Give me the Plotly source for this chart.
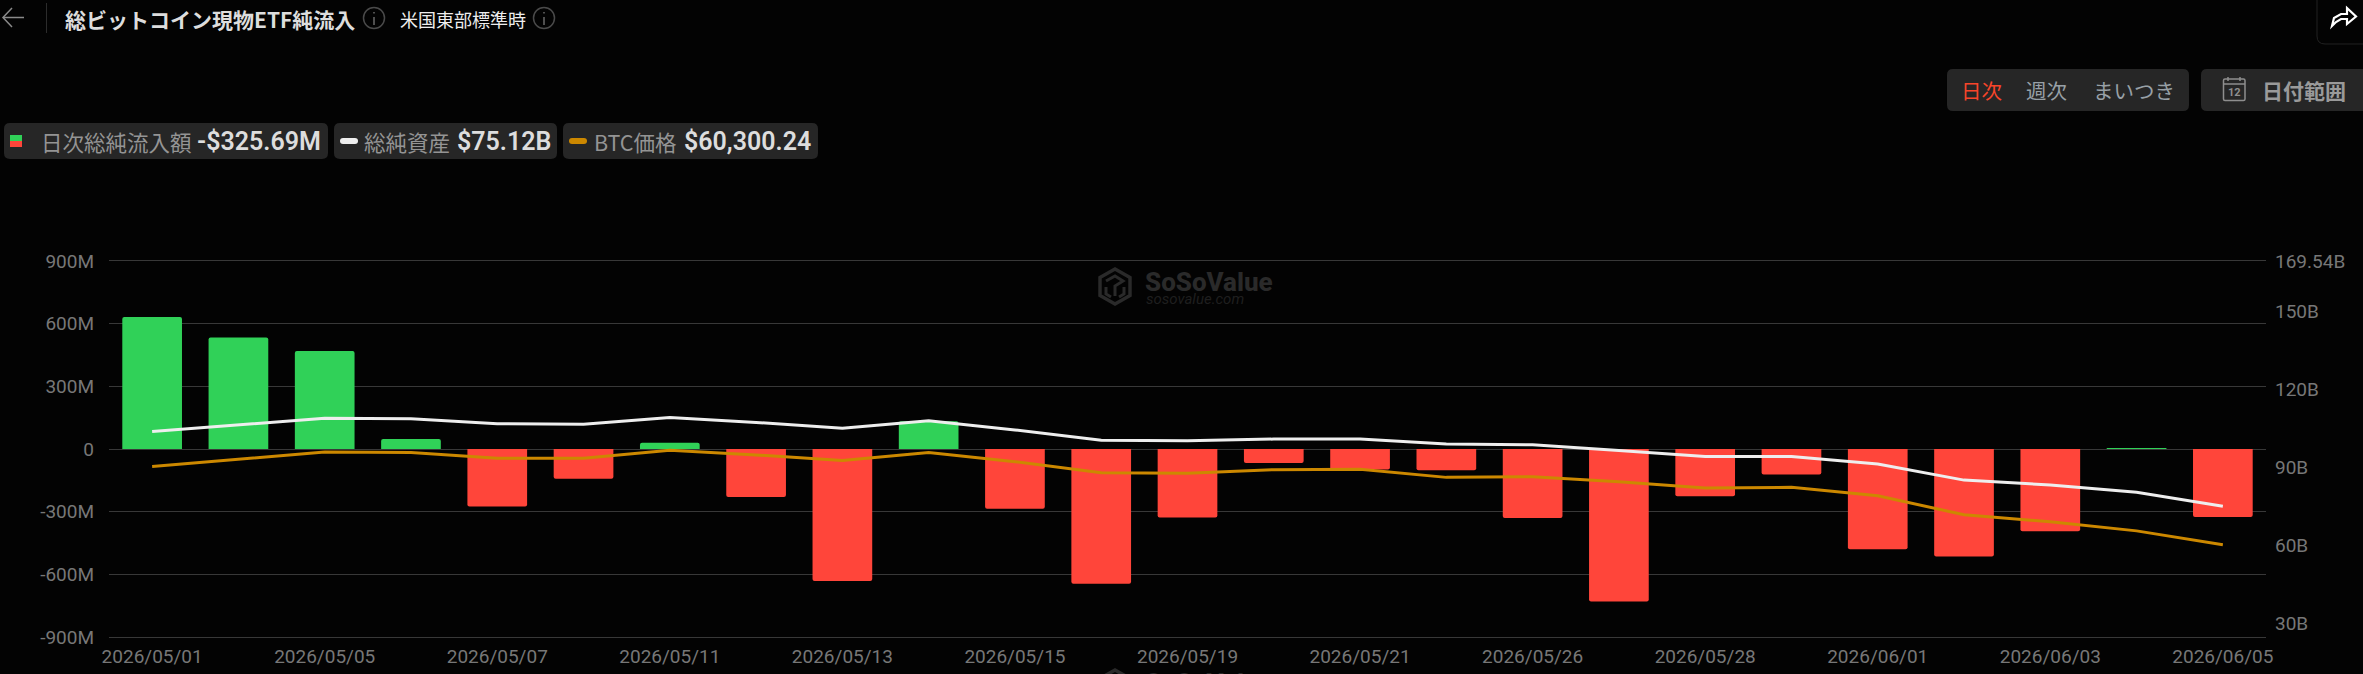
import plotly.graph_objects as go

# Daily spot Bitcoin ETF figures, one entry per trading day
trade_dates = [
    "2026/05/01", "2026/05/04", "2026/05/05", "2026/05/06", "2026/05/07",
    "2026/05/08", "2026/05/11", "2026/05/12", "2026/05/13", "2026/05/14",
    "2026/05/15", "2026/05/18", "2026/05/19", "2026/05/20", "2026/05/21",
    "2026/05/22", "2026/05/26", "2026/05/27", "2026/05/28", "2026/05/29",
    "2026/06/01", "2026/06/02", "2026/06/03", "2026/06/04", "2026/06/05",
]
net_inflow_musd = [
    632, 534, 469, 48, -275, -142, 30, -230, -632, 133, -286, -645, -328,
    -67, -98, -102, -330, -730, -226, -122, -480, -515, -394, 3, -325.69,
]
net_assets_busd = [
    103.9, 106.5, 109.0, 108.8, 106.9, 106.7, 109.3, 107.4, 105.2, 108.0,
    104.5, 100.5, 100.3, 101.0, 101.0, 99.1, 98.8, 96.6, 94.3, 94.3,
    91.4, 85.2, 83.3, 80.5, 75.12,
]
btc_price_usd = [
    90390, 93200, 96050, 95800, 93600, 93600, 96700, 94900, 92700, 95800,
    92300, 88050, 87800, 89200, 89350, 86250, 86500, 84600, 82150, 82400,
    79200, 71850, 69150, 65650, 60300.24,
]

date_ticks = trade_dates[::2]
flow_ticks = [-900, -600, -300, 0, 300, 600, 900]
flow_labels = ["-900M", "-600M", "-300M", "0", "300M", "600M", "900M"]
asset_ticks = [30, 60, 90, 120, 150, 169.54]
asset_labels = ["30B", "60B", "90B", "120B", "150B", "169.54B"]

W, H = 2363, 674
L, R, T, B = 109, 2266, 261, 637

BG = "#030303"
CHIP = "#262626"
GREEN = "#30D158"
RED = "#FF453A"
WHITE = "#EEEEEE"
ORANGE = "#CC8800"
GRID = "#383838"
TICK = "#777777"
JP = "Noto Sans CJK JP"
NUM = "Roboto"
MARK = "#2A2A2A"


def px(x):
    return (x - L) / (R - L)


def py(y):
    return 1 - (y - T) / (B - T)


def path(points, close=False):
    d = " ".join(
        f"{'M' if i == 0 else 'L'}{px(x):.6f},{py(y):.6f}" for i, (x, y) in enumerate(points)
    )
    return d + (" Z" if close else "")


def round_rect(x0, y0, x1, y1, r):
    return (
        f"M{px(x0 + r):.6f},{py(y0):.6f} L{px(x1 - r):.6f},{py(y0):.6f} "
        f"Q{px(x1):.6f},{py(y0):.6f} {px(x1):.6f},{py(y0 + r):.6f} "
        f"L{px(x1):.6f},{py(y1 - r):.6f} "
        f"Q{px(x1):.6f},{py(y1):.6f} {px(x1 - r):.6f},{py(y1):.6f} "
        f"L{px(x0 + r):.6f},{py(y1):.6f} "
        f"Q{px(x0):.6f},{py(y1):.6f} {px(x0):.6f},{py(y1 - r):.6f} "
        f"L{px(x0):.6f},{py(y0 + r):.6f} "
        f"Q{px(x0):.6f},{py(y0):.6f} {px(x0 + r):.6f},{py(y0):.6f} Z"
    )


shapes = []
notes = []


def fill_shape(d, color):
    shapes.append(dict(type="path", xref="paper", yref="paper", path=d,
                       fillcolor=color, line=dict(width=0), layer="below"))


def stroke_shape(d, color, width=1.5):
    shapes.append(dict(type="path", xref="paper", yref="paper", path=d,
                       line=dict(color=color, width=width), layer="below"))


def circle(cx, cy, r, color, width=1.5):
    shapes.append(dict(type="circle", xref="paper", yref="paper",
                       x0=px(cx - r), x1=px(cx + r), y0=py(cy + r), y1=py(cy - r),
                       line=dict(color=color, width=width), layer="below"))


def text(x, y, s, size, color, family=JP, anchor="left", weight=None, italic=False):
    font = dict(family=family, size=size, color=color)
    if weight:
        font["weight"] = weight
    if italic:
        font["style"] = "italic"
    notes.append(dict(xref="paper", yref="paper", x=px(x), y=py(y), text=s,
                      showarrow=False, xanchor=anchor, yanchor="middle",
                      font=font, borderpad=0))


def info_icon(cx, cy):
    circle(cx, cy, 10.5, "#4A4A4A", 1.5)
    stroke_shape(path([(cx, cy - 1), (cx, cy + 7)]), "#6A6A6A", 1.5)
    stroke_shape(path([(cx, cy - 6), (cx, cy - 4.4)]), "#6A6A6A", 1.5)


def watermark(dy, caption=True):
    # Hexagonal brand mark with its wordmark
    hex_pts = [(1115, 269 + dy), (1130, 277.5 + dy), (1130, 295.5 + dy),
               (1115, 304 + dy), (1100, 295.5 + dy), (1100, 277.5 + dy)]
    stroke_shape(path(hex_pts, close=True), MARK, 3.5)
    stroke_shape(path([(1106, 281 + dy), (1115, 276 + dy), (1123, 281 + dy),
                       (1115, 286 + dy), (1115, 296 + dy)]), MARK, 3)
    stroke_shape(path([(1106, 287 + dy), (1106, 294 + dy), (1111, 297 + dy)]), MARK, 3)
    stroke_shape(path([(1124, 287 + dy), (1124, 294 + dy), (1119, 297 + dy)]), MARK, 3)
    text(1144, 282 + dy, "SoSoValue", 26, MARK, NUM, weight=800)
    if caption:
        text(1145, 299 + dy, "sosovalue.com", 15, "#1F1F1F", NUM, italic=True)


# Header row
stroke_shape(path([(24, 17.5), (3, 17.5)]), "#8A8A8A", 1.5)
stroke_shape(path([(12, 8), (3, 17.5), (12, 27)]), "#8A8A8A", 1.5)
stroke_shape(path([(46.5, 3), (46.5, 33)]), "#2C2C2C", 1)
text(64, 19, "総ビットコイン現物ETF純流入", 21, "#DDDDDD", weight=700)
info_icon(374, 18)
text(399, 19, "米国東部標準時", 18, "#EEEEEE")
info_icon(544, 18)

# Share button in the top right corner
stroke_shape(
    f"M{px(2317):.6f},{py(0):.6f} L{px(2317):.6f},{py(36):.6f} "
    f"Q{px(2317):.6f},{py(44):.6f} {px(2325):.6f},{py(44):.6f} L{px(2363):.6f},{py(44):.6f}",
    "#222222", 1)
stroke_shape(
    path([(2332, 26), (2334, 18), (2341, 14), (2347, 14), (2347, 8), (2356, 16.5),
          (2347, 24), (2347, 19), (2341, 19), (2336, 22)], close=True),
    "#FFFFFF", 2.2)

# Interval selector and date range button
fill_shape(round_rect(1947, 69, 2189, 111, 6), CHIP)
text(1981, 90, "日次", 20.5, "#F8452A", anchor="center")
text(2046, 90, "週次", 20.5, "#98A0A6", anchor="center")
text(2134, 90, "まいつき", 20.5, "#98A0A6", anchor="center")
fill_shape(round_rect(2201, 69, 2375, 111, 6), CHIP)
stroke_shape(round_rect(2223.5, 79, 2245, 100.5, 1.5), "#8E8E8E", 1.5)
stroke_shape(path([(2223.5, 84), (2245, 84)]), "#8E8E8E", 1.5)
stroke_shape(path([(2228, 77), (2228, 81)]), "#8E8E8E", 1.5)
stroke_shape(path([(2240, 77), (2240, 81)]), "#8E8E8E", 1.5)
text(2234.2, 92.5, "12", 11, "#8E8E8E", NUM, anchor="center", weight=700)
text(2260.5, 90, "日付範囲", 21, "#9A9A9A", weight=700)

# Latest-value chips above the chart
fill_shape(round_rect(4, 123, 328, 159, 6), CHIP)
fill_shape(round_rect(334, 123, 557, 159, 6), CHIP)
fill_shape(round_rect(563, 123, 818, 159, 6), CHIP)
shapes.append(dict(type="rect", xref="paper", yref="paper", x0=px(10), x1=px(22),
                   y0=py(141), y1=py(135), fillcolor=GREEN, line=dict(width=0)))
shapes.append(dict(type="rect", xref="paper", yref="paper", x0=px(10), x1=px(22),
                   y0=py(147), y1=py(141), fillcolor=RED, line=dict(width=0)))
fill_shape(round_rect(340, 138, 358, 144, 3), WHITE)
fill_shape(round_rect(569, 138, 587, 144, 3), ORANGE)

LABEL = "#949494"
VALUE = "#DDDDDD"
last_flow = net_inflow_musd[-1]
text(40, 141, "日次総純流入額", 21.5, LABEL)
text(196, 141, f"-${abs(last_flow):.2f}M", 25, VALUE, NUM, weight=600)
text(363, 141, "総純資産", 21.5, LABEL)
text(456, 141, f"${net_assets_busd[-1]:.2f}B", 25, VALUE, NUM, weight=600)
text(592.5, 141, "BTC価格", 21.5, LABEL)
text(683, 141, f"${btc_price_usd[-1]:,.2f}", 25, VALUE, NUM, weight=600)

# The watermark repeats further down the page, where only its top edge stays in view
watermark(0)
watermark(401, caption=False)

asset_range = [24.8, 169.54]

fig = go.Figure()
fig.add_trace(go.Bar(
    x=trade_dates, y=net_inflow_musd, name="日次総純流入額",
    marker=dict(color=[GREEN if v >= 0 else RED for v in net_inflow_musd],
                line=dict(width=0), cornerradius=2),
))
fig.add_trace(go.Scatter(
    x=trade_dates, y=net_assets_busd, name="総純資産", yaxis="y2",
    mode="lines", line=dict(color=WHITE, width=3),
))
fig.add_trace(go.Scatter(
    x=trade_dates, y=btc_price_usd, name="BTC価格", yaxis="y3",
    mode="lines", line=dict(color=ORANGE, width=3),
))

tick_font = dict(family=NUM, size=19, color=TICK)
fig.update_layout(
    width=W, height=H,
    margin=dict(l=L, r=W - R, t=T, b=H - B, pad=0, autoexpand=False),
    paper_bgcolor=BG, plot_bgcolor=BG,
    showlegend=False,
    bargap=0.308,
    shapes=shapes,
    annotations=notes,
    xaxis=dict(
        type="category", categoryorder="array", categoryarray=trade_dates,
        range=[-0.5, len(trade_dates) - 0.5], automargin=False,
        tickmode="array", tickvals=date_ticks, ticktext=date_ticks,
        tickangle=0, tickfont=tick_font, showgrid=False, zeroline=False,
        # The axis line and its mirror supply the rules at +900M and -900M
        showline=True, mirror=True, linecolor=GRID, linewidth=1,
        ticks="", ticklabelstandoff=2,
    ),
    yaxis=dict(
        range=[-900, 900], automargin=False,
        tickmode="array", tickvals=flow_ticks, ticktext=flow_labels,
        tickfont=tick_font, gridcolor=GRID, gridwidth=1, zeroline=True,
        zerolinecolor=GRID, zerolinewidth=1, showline=False, ticks="",
        ticklabelstandoff=14,
    ),
    yaxis2=dict(
        range=asset_range, overlaying="y", side="right", automargin=False,
        tickmode="array", tickvals=asset_ticks, ticktext=asset_labels,
        tickfont=tick_font, showgrid=False, zeroline=False, showline=False,
        ticks="", ticklabelstandoff=8,
    ),
    # BTC price shares the asset scale, with dollars in place of billions
    yaxis3=dict(
        range=[v * 1000 for v in asset_range], overlaying="y", side="right",
        visible=False, showgrid=False, zeroline=False, automargin=False,
    ),
)

fig.write_html("out.html", config=dict(displayModeBar=False))
